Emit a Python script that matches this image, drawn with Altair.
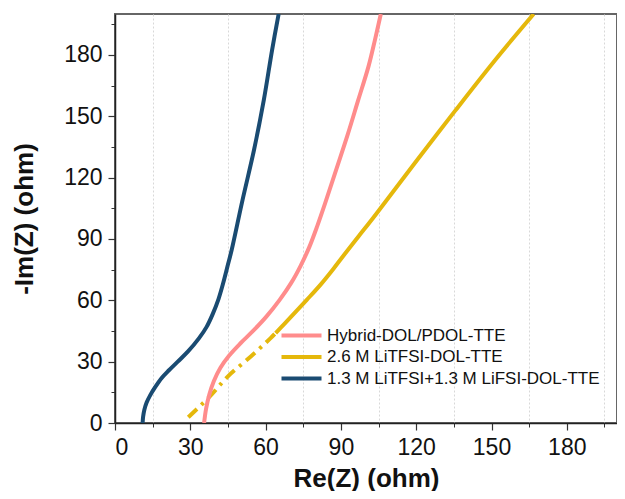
import altair as alt
import pandas as pd

# ---- data ----
series_names = ["Hybrid-DOL/PDOL-TTE", "2.6 M LiTFSI-DOL-TTE", "1.3 M LiTFSI+1.3 M LiFSI-DOL-TTE"]
series_colors = ["#FF8C8C", "#E5B80B", "#1A4B72"]

pink_x = [35.5, 36.3, 37.6, 39.4, 42.0, 45.5, 50.0, 55.0, 60.3, 65.6, 70.2, 74.0, 77.4, 80.5, 83.6, 88.3, 92.7, 96.8, 101.0, 103.5, 105.9]
pink_y = [0.0, 7.0, 14.0, 20.5, 27.0, 33.0, 39.0, 45.0, 52.0, 60.2, 68.5, 77.0, 86.0, 96.0, 107.0, 124.5, 141.0, 157.5, 174.4, 187.0, 200.0]

yellow_dash_x = [29.2, 37.7, 44.9, 54.0, 61.9, 64.0]
yellow_dash_y = [2.8, 12.9, 22.7, 32.4, 41.4, 44.0]

yellow_x = [64.0, 67.5, 76.4, 82.0, 86.9, 91.0, 97.0, 103.9, 119.7, 135.4, 151.4, 166.8]
yellow_y = [44.0, 48.5, 60.2, 67.8, 75.2, 81.8, 91.2, 102.0, 127.5, 152.5, 177.4, 200.0]

blue_x = [11.0, 11.2, 11.7, 12.6, 14.0, 16.0, 18.6, 21.5, 25.0, 29.1, 33.5, 36.5, 39.0, 41.2, 43.0, 44.8, 46.5, 50.8, 55.4, 59.3, 62.6, 65.2]
blue_y = [0.0, 3.0, 6.5, 10.0, 13.5, 17.5, 22.0, 25.8, 30.0, 35.0, 41.5, 47.0, 53.5, 60.5, 68.0, 76.5, 84.7, 109.0, 133.6, 158.0, 182.5, 200.0]

major_ticks = [0, 30, 60, 90, 120, 150, 180]
minor_ticks = [15, 45, 75, 105, 135, 165, 195]

rows = []
for name, xs, ys in [(series_names[0], pink_x, pink_y),
                     (series_names[1], yellow_x, yellow_y),
                     (series_names[2], blue_x, blue_y)]:
    for i, (a, b) in enumerate(zip(xs, ys)):
        rows.append({"series": name, "x": a, "y": b, "i": i})
df = pd.DataFrame(rows)

dash_df = pd.DataFrame({"x": yellow_dash_x, "y": yellow_dash_y, "i": list(range(len(yellow_dash_x)))})

FONT = "Liberation Sans"

xscale = alt.Scale(domain=[0, 200], nice=False, zero=False)
yscale = alt.Scale(domain=[0, 200], nice=False, zero=False)

main = alt.Chart(df).mark_line(strokeWidth=4, interpolate="catmull-rom", clip=True).encode(
    x=alt.X("x:Q", scale=xscale,
            axis=alt.Axis(orient="bottom", values=major_ticks, title="Re(Z) (ohm)", grid=False,
                          tickSize=7, tickWidth=1.2, tickColor="#333", domainColor="#222", domainWidth=1.5,
                          labelFontSize=23, labelFont=FONT, labelColor="#111", labelPadding=6,
                          titleFontSize=26, titleFont=FONT, titleFontWeight="bold", titleColor="#111",
                          titlePadding=6)),
    y=alt.Y("y:Q", scale=yscale,
            axis=alt.Axis(orient="left", values=major_ticks, title="-Im(Z) (ohm)", grid=False,
                          tickSize=7, tickWidth=1.2, tickColor="#333", domainColor="#222", domainWidth=1.5,
                          labelFontSize=23, labelFont=FONT, labelColor="#111", labelPadding=6,
                          titleFontSize=26, titleFont=FONT, titleFontWeight="bold", titleColor="#111",
                          titlePadding=26)),
    color=alt.Color("series:N",
                    scale=alt.Scale(domain=series_names, range=series_colors),
                    legend=alt.Legend(title=None, orient="none", legendX=193, legendY=313,
                                      symbolType="M-7,0H1", symbolSize=100, symbolStrokeWidth=4,
                                      labelFontSize=17, labelFont=FONT, labelColor="#111",
                                      labelOffset=2, rowPadding=3.5, labelLimit=400, padding=0)),
    order="i:Q",
)

dashed = alt.Chart(dash_df).mark_line(strokeWidth=4, color="#E5B80B", strokeDash=[12, 6, 3, 6],
                                      interpolate="catmull-rom", clip=True).encode(
    x=alt.X("x:Q", scale=xscale,
            axis=alt.Axis(orient="bottom", values=minor_ticks, title=None, labels=False, domain=False,
                          grid=True, gridDash=[2, 2], gridColor="#d8d8d8", gridWidth=1,
                          tickSize=4, tickColor="#333")),
    y=alt.Y("y:Q", scale=yscale,
            axis=alt.Axis(orient="left", values=minor_ticks, title=None, labels=False, domain=False,
                          grid=False, tickSize=4, tickColor="#333")),
    order="i:Q",
)

chart = alt.layer(dashed, main).resolve_axis(x="independent", y="independent").properties(
    width=502, height=409,
    autosize=alt.AutoSizeParams(type="none"),
    padding={"left": 107, "top": 6, "right": 0, "bottom": 68},
).configure_view(stroke="#666", strokeWidth=2)

chart.save("out.html", embed_options={"renderer": "svg", "actions": False})
